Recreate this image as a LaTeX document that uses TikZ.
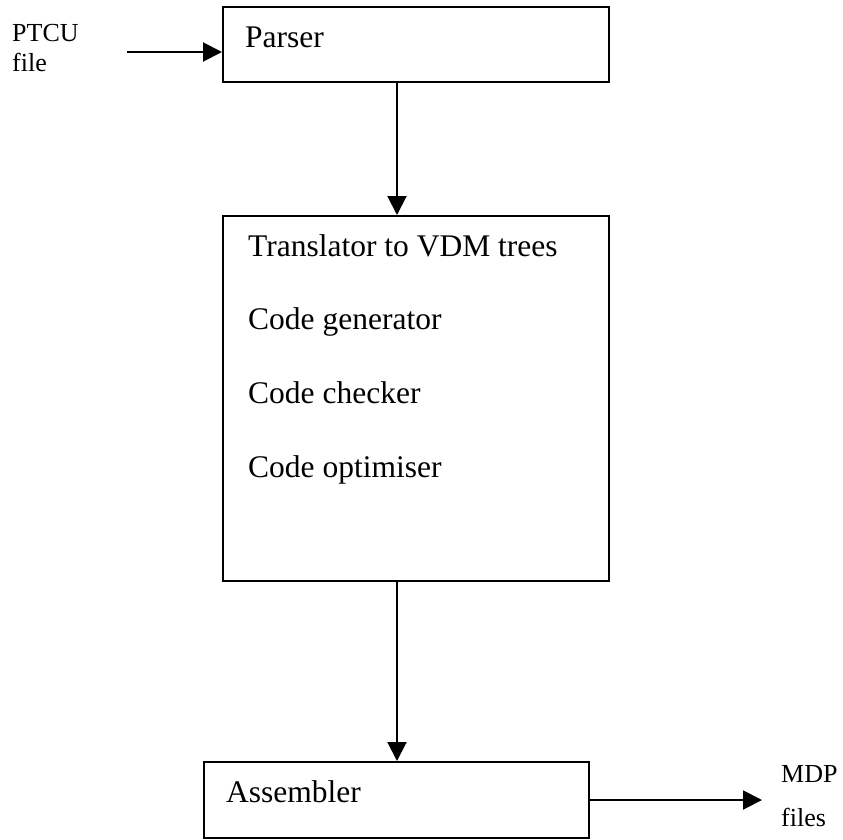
\documentclass[tikz,border=0pt]{standalone}
\usepackage{fontspec}
\setmainfont{Liberation Serif}
\usetikzlibrary{arrows.meta}
\begin{document}
\begin{tikzpicture}[x=1pt,y=-1pt,
  stage/.style={draw=black, line width=2pt, rectangle, inner sep=0pt},
  arr/.style={line width=2pt, -{Triangle[length=19pt,width=19pt]}},
  main/.style={anchor=base west, inner sep=0pt, font=\fontsize{31.5}{36}\selectfont},
  side/.style={anchor=base west, inner sep=0pt, font=\fontsize{26}{30}\selectfont}]
\useasboundingbox (0,0) rectangle (843,839);

% processing stages
\node[stage, minimum width=386pt, minimum height=75pt] (parser) at (416,44.5) {};
\node[stage, minimum width=386pt, minimum height=365pt] (trans) at (416,398.5) {};
\node[stage, minimum width=385pt, minimum height=76pt] (asm) at (396.5,800) {};

% stage texts
\node[main] (tparser) at (245,47) {Parser};
\node[main] (t1) at (248,256) {Translator to VDM trees};
\node[main] (t2) at (248,329) {Code generator};
\node[main] (t3) at (248,403) {Code checker};
\node[main] (t4) at (248,477) {Code optimiser};
\node[main] (tasm) at (226,802) {Assembler};

% input and output labels
\node[side] (in1) at (12,41) {PTCU};
\node[side] (in2) at (12,71) {file};
\node[side] (out1) at (781,782) {MDP};
\node[side] (out2) at (781,826) {files};

% connector helpers
\coordinate (col) at (397,0);
\coordinate (instart) at (127,52);
\coordinate (outend) at (762,800);

% data flow
\draw[arr] (instart) -- (instart -| parser.west);
\draw[arr] (parser.south -| col) -- (trans.north -| col);
\draw[arr] (trans.south -| col) -- (asm.north -| col);
\draw[arr] (asm.east) -- (outend);
\end{tikzpicture}
\end{document}
